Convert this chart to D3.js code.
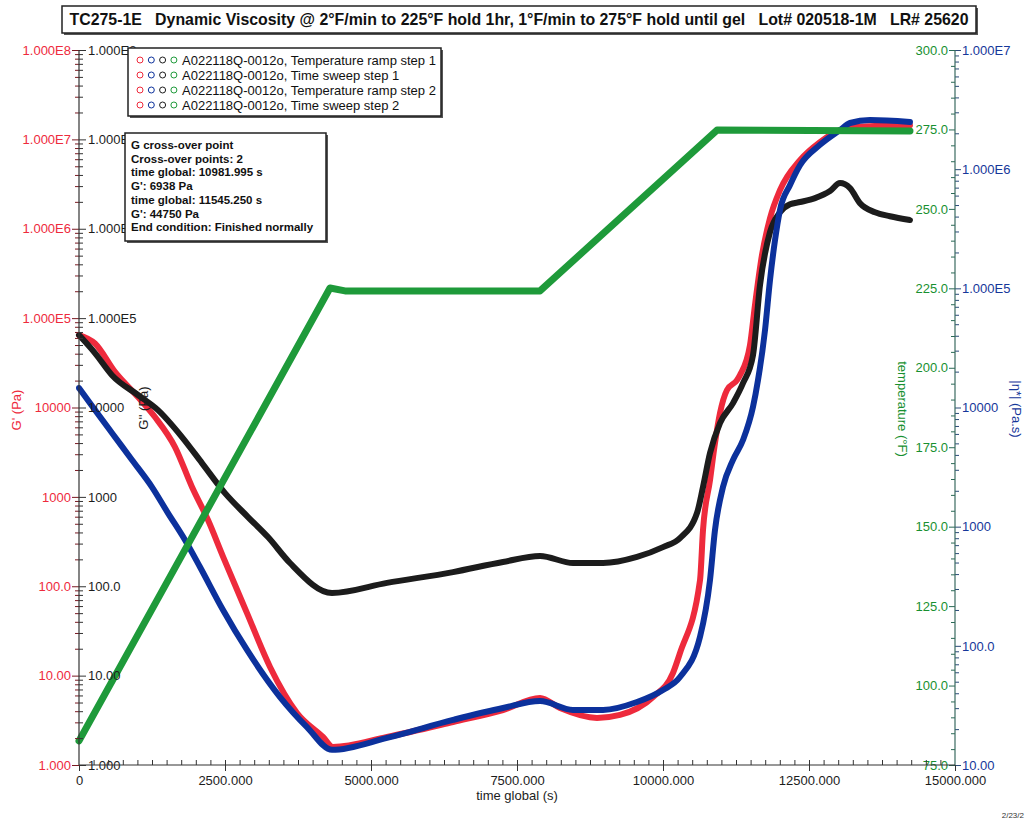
<!DOCTYPE html>
<html>
<head>
<meta charset="utf-8">
<script src="https://cdn.jsdelivr.net/npm/d3@7"></script>
<style>
  body { margin: 0; background: #fff; }
  svg { display: block; font-family: "Liberation Sans", Arial, sans-serif; }
</style>
</head>
<body>
<div id="chart"></div>
<script>
// ---- data: [time global (s), value] ----
const storageModulus = [ // G' (Pa), red
  [0, 64600], [274, 52000], [616, 25000], [1010, 13100], [1301, 7820], [1644, 3610],
  [1935, 1290], [2209, 550], [2466, 215], [2877, 50], [3271, 12.5], [3733, 3.82],
  [4178, 2.06], [4349, 1.59], [5274, 2.06], [6404, 3.03], [7260, 4.12], [7894, 5.61],
  [8236, 4.34], [8870, 3.36], [9264, 3.63], [9829, 5.76], [10171, 10.7], [10291, 17.9],
  [10634, 117], [10685, 425], [10805, 1540], [10890, 4000], [10976, 8660],
  [11096, 15700], [11267, 20200], [11318, 23000], [11490, 49900], [11575, 140000],
  [11695, 507000], [11832, 1310000], [12003, 2700000], [12346, 5850000], [12688, 9310000],
  [13031, 12700000], [13373, 13900000], [14229, 14400000]
];
const lossModulus = [ // G'' (Pa), black
  [0, 64600], [274, 40600], [565, 23000], [1010, 13800], [1353, 9350], [1764, 4670],
  [2106, 2390], [2500, 1100], [2894, 595], [3236, 355], [3613, 182], [4332, 83.9],
  [5274, 109], [6404, 144], [7260, 187], [7894, 218], [8459, 182], [8973, 182],
  [9555, 213], [10000, 274], [10291, 346], [10582, 659], [10685, 1290], [10805, 3090],
  [10976, 6690], [11199, 11200], [11370, 18700], [11541, 38500], [11661, 234000],
  [11832, 916000], [12003, 1530000], [12175, 1880000], [12346, 1990000], [12603, 2200000],
  [12860, 2640000], [13031, 3240000], [13202, 2850000], [13373, 1930000], [13630, 1530000],
  [13887, 1380000], [14229, 1250000]
];
const complexViscosity = [ // |η*| (Pa.s), blue
  [0, 14590], [274, 9530], [565, 6110], [908, 3630], [1250, 2150], [1524, 1300],
  [1815, 773], [2072, 459], [2466, 200], [2877, 92.3], [3442, 37.2], [3904, 20.8],
  [4332, 13.4], [5274, 16.9], [6404, 23.9], [7260, 30.1], [7894, 34.4], [8459, 29.0],
  [8973, 29.0], [9555, 33.8], [10000, 42.6], [10291, 54.7], [10634, 119], [10805, 357],
  [10890, 937], [11027, 2150], [11199, 3630], [11370, 5330], [11541, 10100], [11627, 17000],
  [11747, 44700], [11832, 117000], [11918, 254000], [12003, 454000], [12175, 736000],
  [12346, 1080000], [12688, 1600000], [13031, 2130000], [13202, 2440000], [13545, 2580000],
  [14229, 2490000]
];
const temperature = [ // °F, green
  [0, 82.6], [2158, 154.1], [4298, 225.1], [4555, 224.2], [7894, 224.2],
  [10925, 274.8], [14229, 274.5]
];

const timeTicks = [0, 2500, 5000, 7500, 10000, 12500, 15000];
const modulusTicks = [1, 10, 100, 1000, 10000, 1e5, 1e6, 1e7, 1e8];
const modulusLabels = ["1.000", "10.00", "100.0", "1000", "10000", "1.000E5", "1.000E6", "1.000E7", "1.000E8"];
const tempTicks = [75, 100, 125, 150, 175, 200, 225, 250, 275, 300];
const viscTicks = [10, 100, 1000, 10000, 1e5, 1e6, 1e7];
const viscLabels = ["10.00", "100.0", "1000", "10000", "1.000E5", "1.000E6", "1.000E7"];

const legendRows = [
  "A022118Q-0012o, Temperature ramp step 1",
  "A022118Q-0012o, Time sweep step 1",
  "A022118Q-0012o, Temperature ramp step 2",
  "A022118Q-0012o, Time sweep step 2"
];
const noteLines = [
  "G cross-over point",
  "Cross-over points: 2",
  "time global: 10981.995 s",
  "G': 6938 Pa",
  "time global: 11545.250 s",
  "G': 44750 Pa",
  "End condition: Finished normally"
];
const titleText = "TC275-1E   Dynamic Viscosity @ 2\u00B0F/min to 225\u00B0F hold 1hr, 1\u00B0F/min to 275\u00B0F hold until gel   Lot# 020518-1M   LR# 25620";

const width = 1026, height = 824;
const margin = {top: 50, right: 71, bottom: 59, left: 79};

const RED = "#ee2a3c", BLACK = "#1c1c1c", BLUE = "#0c319c", GREEN = "#1e9a3a";
const GREEN_TXT = "#189030", BLUE_TXT = "#16379a";

const svg = d3.select("#chart").append("svg")
  .attr("width", width)
  .attr("height", height);

// scales
const x = d3.scaleLinear().domain([0, 15000]).range([margin.left, width - margin.right]);
const yG = d3.scaleLog().domain([1, 1e8]).range([height - margin.bottom, margin.top]);
const yT = d3.scaleLinear().domain([75, 300]).range([height - margin.bottom, margin.top]);
const yV = d3.scaleLog().domain([10, 1e7]).range([height - margin.bottom, margin.top]);

const x0 = x.range()[0], x1 = x.range()[1], yB = yG.range()[0];

function minorLog(lo, hi) {
  const out = [];
  for (let e = lo; e < hi; e++) for (let k = 2; k <= 9; k++) out.push(k * Math.pow(10, e));
  return out;
}

// ---- series ----
function drawSeries(data, yScale, color, w, curve) {
  const line = d3.line()
    .x(d => x(d[0]))
    .y(d => yScale(d[1]))
    .curve(curve);
  svg.append("path")
    .datum(data)
    .attr("fill", "none")
    .attr("stroke", color)
    .attr("stroke-width", w)
    .attr("stroke-linejoin", "round")
    .attr("stroke-linecap", "round")
    .attr("d", line);
}
drawSeries(storageModulus, yG, RED, 6, d3.curveMonotoneX);
drawSeries(lossModulus, yG, BLACK, 6, d3.curveMonotoneX);
drawSeries(complexViscosity, yV, BLUE, 6, d3.curveMonotoneX);
drawSeries(temperature, yT, GREEN, 7, d3.curveLinear);

// ---- axes ----
function styleAxis(g, color, tickColor) {
  g.select(".domain").remove();
  g.selectAll("line").attr("stroke", tickColor || color);
  g.selectAll("text").attr("fill", color).attr("font-size", 13)
    .attr("font-family", "Liberation Sans, Arial, sans-serif");
}

// left (G' red labels / G'' black labels)
svg.append("g").attr("transform", `translate(${x0},0)`)
  .call(d3.axisLeft(yG).tickValues(minorLog(0, 8)).tickSize(4).tickFormat(""))
  .call(g => styleAxis(g, RED, "#7a1a22"));
svg.append("g").attr("transform", `translate(${x0},0)`)
  .call(d3.axisRight(yG).tickValues(minorLog(0, 8)).tickSize(4).tickFormat(""))
  .call(g => styleAxis(g, BLACK, "#333"));
svg.append("g").attr("transform", `translate(${x0},0)`)
  .call(d3.axisLeft(yG).tickValues(modulusTicks).tickSize(7).tickPadding(1)
    .tickFormat((d, i) => modulusLabels[i]))
  .call(g => styleAxis(g, RED, "#7a1a22"));
svg.append("g").attr("transform", `translate(${x0},0)`)
  .call(d3.axisRight(yG).tickValues(modulusTicks).tickSize(7).tickPadding(2)
    .tickFormat((d, i) => modulusLabels[i]))
  .call(g => styleAxis(g, BLACK, "#333"));
svg.append("line")
  .attr("x1", x0).attr("x2", x0).attr("y1", yG.range()[1]).attr("y2", yB)
  .attr("stroke", "#333").attr("stroke-width", 1.2);

// right (temperature green / |η*| blue)
const tempMinor = d3.range(75, 301, 5).filter(d => d % 25 !== 0);
svg.append("g").attr("transform", `translate(${x1},0)`)
  .call(d3.axisLeft(yT).tickValues(tempMinor).tickSize(4).tickFormat(""))
  .call(g => styleAxis(g, GREEN_TXT, "#2a6a55"));
svg.append("g").attr("transform", `translate(${x1},0)`)
  .call(d3.axisRight(yV).tickValues(minorLog(1, 7)).tickSize(4).tickFormat(""))
  .call(g => styleAxis(g, BLUE_TXT, "#2a4a7a"));
svg.append("g").attr("transform", `translate(${x1},0)`)
  .call(d3.axisLeft(yT).tickValues(tempTicks).tickSize(6).tickPadding(1)
    .tickFormat(d3.format(".1f")))
  .call(g => styleAxis(g, GREEN_TXT, "#2a6a55"));
svg.append("g").attr("transform", `translate(${x1},0)`)
  .call(d3.axisRight(yV).tickValues(viscTicks).tickSize(6).tickPadding(1)
    .tickFormat((d, i) => viscLabels[i]))
  .call(g => styleAxis(g, BLUE_TXT, "#2a4a7a"));
svg.append("line")
  .attr("x1", x1).attr("x2", x1).attr("y1", yT.range()[1]).attr("y2", yB)
  .attr("stroke", "#3a6a60").attr("stroke-width", 1.2);

// bottom
svg.append("g").attr("transform", `translate(0,${yB})`)
  .call(d3.axisTop(x).tickValues(d3.range(250, 15000, 250)).tickSize(5).tickFormat(""))
  .call(g => styleAxis(g, BLACK, "#333"));
svg.append("g").attr("transform", `translate(0,${yB})`)
  .call(d3.axisBottom(x).tickValues(timeTicks).tickSize(6).tickPadding(5)
    .tickFormat(d => d === 0 ? "0" : d3.format(".3f")(d)))
  .call(g => styleAxis(g, BLACK, "#333"));
svg.append("line")
  .attr("x1", x0).attr("x2", x1).attr("y1", yB).attr("y2", yB)
  .attr("stroke", "#333").attr("stroke-width", 1.2);

// axis titles
svg.append("text")
  .attr("transform", `translate(21,410)rotate(-90)`)
  .attr("text-anchor", "middle").attr("fill", RED).attr("font-size", 13)
  .text("G' (Pa)");
svg.append("text")
  .attr("transform", `translate(148,408)rotate(-90)`)
  .attr("text-anchor", "middle").attr("fill", BLACK).attr("font-size", 13)
  .text("G'' (Pa)");
svg.append("text")
  .attr("transform", `translate(898,409)rotate(90)`)
  .attr("text-anchor", "middle").attr("fill", GREEN_TXT).attr("font-size", 13)
  .text("temperature (\u00B0F)");
svg.append("text")
  .attr("transform", `translate(1012,409)rotate(90)`)
  .attr("text-anchor", "middle").attr("fill", BLUE_TXT).attr("font-size", 13)
  .text("|\u03B7*| (Pa.s)");
svg.append("text")
  .attr("x", (x0 + x1) / 2).attr("y", 800)
  .attr("text-anchor", "middle").attr("fill", BLACK).attr("font-size", 13)
  .text("time global (s)");

// boxes
function box(bx, by, bw, bh) {
  svg.append("rect").attr("x", bx + 2).attr("y", by + 2).attr("width", bw).attr("height", bh)
    .attr("fill", "#555");
  svg.append("rect").attr("x", bx).attr("y", by).attr("width", bw).attr("height", bh)
    .attr("fill", "#fff").attr("stroke", "#222").attr("stroke-width", 1.5);
}

// title - size the font so the natural width fits the box
box(62, 6, 914, 27);
const title = svg.append("text")
  .attr("x", 519).attr("y", 25)
  .attr("text-anchor", "middle")
  .attr("xml:space", "preserve")
  .style("white-space", "pre")
  .attr("font-family", "Liberation Sans Narrow, Arial Narrow, Liberation Sans, sans-serif")
  .attr("font-weight", "bold").attr("font-size", 17)
  .attr("fill", "#111")
  .text(titleText);
const tw = title.node().getComputedTextLength();
if (tw > 900) title.attr("font-size", (17 * 900 / tw).toFixed(2));

// legend
box(128, 48, 313, 68);
const legendColors = [RED, BLUE, BLACK, GREEN];
legendRows.forEach((t, i) => {
  const ry = 60 + i * 15;
  legendColors.forEach((c, j) => {
    svg.append("circle").attr("cx", 140 + j * 11.3).attr("cy", ry).attr("r", 3)
      .attr("fill", "none").attr("stroke", c).attr("stroke-width", 1);
  });
  svg.append("text").attr("x", 182).attr("y", ry + 4.5)
    .attr("font-size", 13).attr("fill", "#111").text(t);
});

// cross-over note
box(125, 133, 201, 108);
noteLines.forEach((t, i) => {
  svg.append("text").attr("x", 131).attr("y", 149 + i * 13.7)
    .attr("font-size", 11.5).attr("font-weight", "bold").attr("fill", "#111").text(t);
});

// print date (only the visible part of the scanned page)
svg.append("text").attr("x", 1024).attr("y", 818).attr("text-anchor", "end")
  .attr("font-size", 8).attr("fill", "#333").text("2/23/2");
</script>
</body>
</html>
